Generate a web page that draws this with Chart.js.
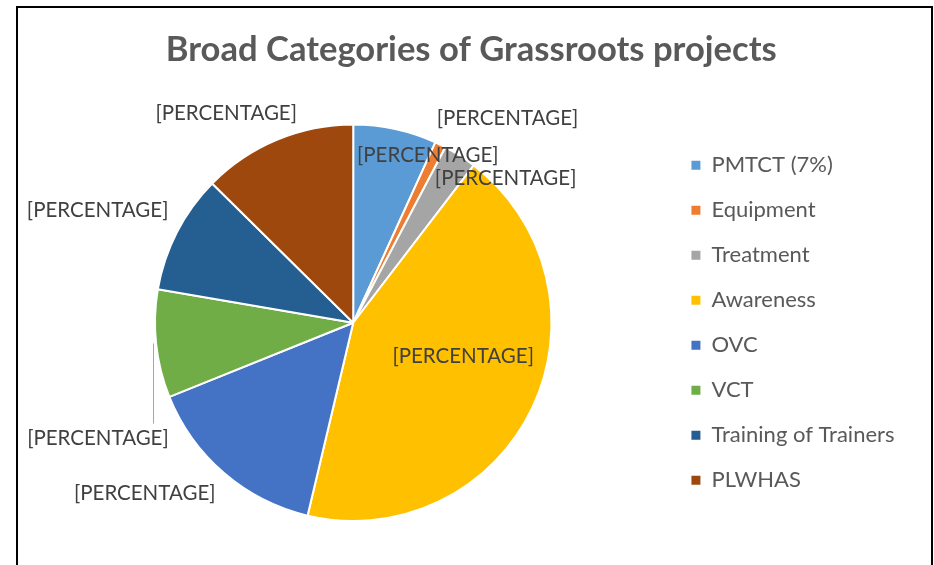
<!DOCTYPE html>
<html>
<head>
<meta charset="utf-8">
<title>Broad Categories of Grassroots projects</title>
<script src="https://cdn.jsdelivr.net/npm/chart.js"></script>
<style>
  html, body { margin: 0; padding: 0; background: #ffffff; }
  #wrap { position: relative; width: 934px; height: 565px; overflow: hidden; }
  #frame {
    position: absolute; left: 16px; top: 6px; width: 917px; height: 620px;
    border: 2px solid #000; box-sizing: border-box; pointer-events: none;
  }
</style>
</head>
<body>
<div id="wrap">
  <canvas id="grassroots-chart" width="934" height="565"></canvas>
  <div id="frame"></div>
</div>
<script>
// Data (share of projects, %)
const categories = ['PMTCT (7%)', 'Equipment', 'Treatment', 'Awareness', 'OVC', 'VCT', 'Training of Trainers', 'PLWHAS'];
const shares = [6.8, 0.9, 2.7, 43.3, 15.2, 8.8, 9.7, 12.6];
const sliceLabels = ['[PERCENTAGE]', '[PERCENTAGE]', '[PERCENTAGE]', '[PERCENTAGE]', '[PERCENTAGE]', '[PERCENTAGE]', '[PERCENTAGE]', '[PERCENTAGE]'];

const sliceColors = ['#5B9BD5', '#ED7D31', '#A5A5A5', '#FFC000', '#4472C4', '#70AD47', '#255E91', '#9E480E'];

// where each data label sits: angle (deg, clockwise from 12 o'clock) and distance in radii
const labelSpots = [
    { angle: 24, dist: 0.925 },
    { angle: 37, dist: 1.293 },
    { angle: 46.5, dist: 1.06 },
    { angle: 107, dist: 0.58 },
    { angle: 230.7, dist: 1.359 },
    { angle: 245.6, dist: 1.414, leaderAngle: 264 },
    { angle: 293.8, dist: 1.409 },
    { angle: 328.8, dist: 1.237 }
];

const FONT = 'Lato, "Open Sans", sans-serif';

// Draws the "[PERCENTAGE]" data labels around the pie
const sliceLabelPlugin = {
    id: 'sliceLabels',
    afterDatasetsDraw(chart) {
        const meta = chart.getDatasetMeta(0);
        if (!meta.data.length) return;
        const arc = meta.data[0];
        const cx = arc.x, cy = arc.y, R = arc.outerRadius;
        const ctx = chart.ctx;
        ctx.save();
        ctx.font = '20.5px ' + FONT;
        ctx.fillStyle = '#404040';
        ctx.textAlign = 'center';
        ctx.textBaseline = 'middle';
        labelSpots.forEach((spot, i) => {
            const a = spot.angle * Math.PI / 180;
            const x = cx + R * spot.dist * Math.sin(a);
            const y = cy - R * spot.dist * Math.cos(a);
            if (spot.leaderAngle !== undefined) {
                const la = spot.leaderAngle * Math.PI / 180;
                const ex = cx + R * Math.sin(la) - 3;
                const ey = cy - R * Math.cos(la);
                ctx.strokeStyle = '#A6A6A6';
                ctx.lineWidth = 1;
                ctx.beginPath();
                ctx.moveTo(Math.round(ex) + 0.5, ey);
                ctx.lineTo(Math.round(ex) + 0.5, y - 15);
                ctx.stroke();
            }
            ctx.fillText(sliceLabels[i], x, y);
        });
        ctx.restore();
    }
};

new Chart(document.getElementById('grassroots-chart'), {
    type: 'pie',
    data: {
        labels: categories,
        datasets: [{
            data: shares,
            backgroundColor: sliceColors,
            borderColor: '#ffffff',
            borderWidth: 2
        }]
    },
    options: {
        responsive: false,
        animation: false,
        layout: {
            padding: { left: 38, right: 29.5, top: 0, bottom: 43 }
        },
        plugins: {
            title: {
                display: true,
                text: 'Broad Categories of Grassroots projects',
                color: '#595959',
                font: { family: FONT, size: 34.6, weight: 'bold' },
                padding: { top: 29.3, bottom: 52.7 }
            },
            legend: {
                position: 'right',
                fullSize: false,
                labels: {
                    boxWidth: 9,
                    boxHeight: 9,
                    padding: 23,
                    color: '#595959',
                    font: { family: FONT, size: 22 },
                    generateLabels: () => categories.map((text, i) => ({
                        text: text,
                        fillStyle: sliceColors[i],
                        strokeStyle: sliceColors[i],
                        lineWidth: 0,
                        fontColor: '#595959',
                        hidden: false,
                        index: i
                    }))
                }
            },
            tooltip: { enabled: false }
        }
    },
    plugins: [sliceLabelPlugin]
});
</script>
</body>
</html>
